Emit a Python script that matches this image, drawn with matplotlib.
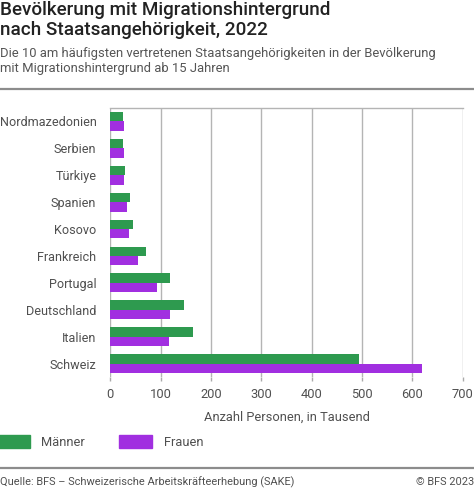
import matplotlib
matplotlib.use("Agg")
import matplotlib.pyplot as plt
from matplotlib.patches import Patch
from matplotlib.lines import Line2D

plt.rcParams['font.family'] = ['Roboto', 'DejaVu Sans']

categories = ["Nordmazedonien", "Serbien", "Türkiye", "Spanien", "Kosovo",
              "Frankreich", "Portugal", "Deutschland", "Italien", "Schweiz"]
maenner = [25, 25, 30, 40, 45, 70, 119, 147, 164, 495]
frauen = [27, 28, 27, 34, 38, 56, 92, 119, 117, 620]
series_names = ["Männer", "Frauen"]
xticks = [0, 100, 200, 300, 400, 500, 600, 700]

GREEN = "#2e9a4f"
PURPLE = "#a12fe0"
TXT = "#505050"
W, H = 474, 490

fig = plt.figure(figsize=(W / 100, H / 100), dpi=100)
ax = fig.add_axes([110.3 / W, (H - 377) / H, (462.7 - 110.3) / W, (377 - 108) / H])

y = list(range(len(categories)))
bh = 0.35
ax.barh([v - bh / 2 for v in y], maenner, height=bh, color=GREEN, zorder=3)
ax.barh([v + bh / 2 for v in y], frauen, height=bh, color=PURPLE, zorder=3)

ax.set_ylim(len(categories) - 0.5, -0.5)
ax.set_xlim(0, 700)
ax.set_yticks(y)
ax.set_yticklabels(categories, fontsize=9.1, color=TXT)
ax.set_xticks(xticks)
ax.set_xticklabels([str(t) for t in xticks], fontsize=9.3, color=TXT)
ax.tick_params(axis='y', length=0, pad=10)
ax.tick_params(axis='x', length=3, color="#aaaaaa", width=1, pad=5)
ax.grid(axis='x', color="#b4b4b4", linewidth=1, zorder=0)
for s in ["left", "right", "bottom"]:
    ax.spines[s].set_visible(False)
ax.spines["top"].set_color("#b4b4b4")
ax.spines["top"].set_linewidth(1)
ax.set_xlabel("Anzahl Personen, in Tausend", fontsize=9.3, color=TXT, labelpad=7)

# Title and subtitle
fig.text(0, 1 - 1 / H, "Bevölkerung mit Migrationshintergrund\nnach Staatsangehörigkeit, 2022",
         fontsize=13.6, fontweight='medium', color="#222222", va='top', ha='left',
         linespacing=1.17)
fig.text(0, 1 - 47 / H, "Die 10 am häufigsten vertretenen Staatsangehörigkeiten in der Bevölkerung\n"
         "mit Migrationshintergrund ab 15 Jahren",
         fontsize=9.35, color="#555555", va='top', ha='left', linespacing=1.22)

# Rules
fig.add_artist(Line2D([0, 1], [1 - 89 / H, 1 - 89 / H], color="#8c8c8c", linewidth=1.6,
                      transform=fig.transFigure))
fig.add_artist(Line2D([0, 1], [1 - 467.5 / H, 1 - 467.5 / H], color="#8c8c8c", linewidth=1.6,
                      transform=fig.transFigure))

# Legend
handles = [Patch(facecolor=GREEN, edgecolor=GREEN, label=series_names[0]),
           Patch(facecolor=PURPLE, edgecolor=PURPLE, label=series_names[1])]
leg = fig.legend(handles=handles, loc='center left', bbox_to_anchor=(-0.008, 1 - 442 / H),
                 ncol=2, frameon=False, prop={'size': 9.3},
                 handlelength=2.6, handleheight=1.1,
                 handletextpad=0.9, columnspacing=2.6, borderaxespad=0, borderpad=0)
for t in leg.get_texts():
    t.set_color(TXT)

# Source
fig.text(0, 1 - 482 / H, "Quelle: BFS – Schweizerische Arbeitskräfteerhebung (SAKE)",
         fontsize=7.95, color=TXT, va='center', ha='left')
fig.text(1, 1 - 482 / H, "© BFS 2023", fontsize=7.95, color=TXT, va='center', ha='right')

fig.savefig("out.png", dpi=100)
